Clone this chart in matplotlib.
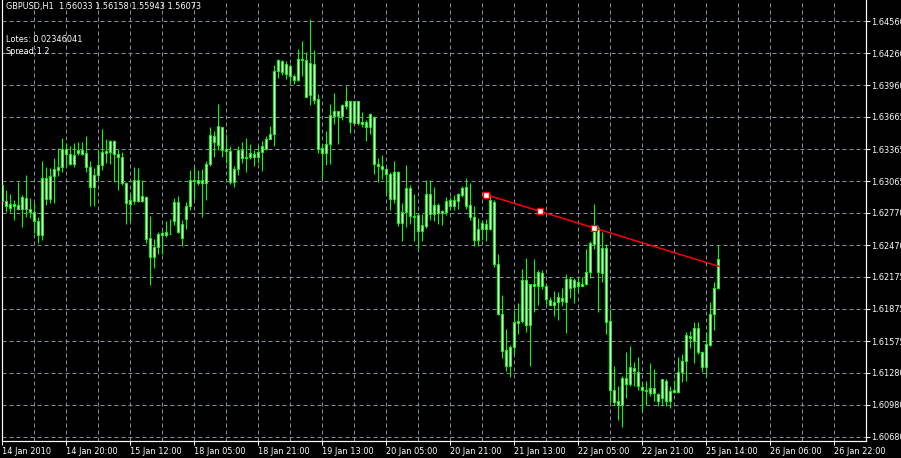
import matplotlib
matplotlib.use("Agg")
import matplotlib.pyplot as plt
import numpy as np

# === DATA (GBPUSD H1, prices x 10000) ===
opens = [
    16303, 16288, 16282, 16285, 16284, 16281, 16291, 16281, 16278, 16269,
    16256, 16310, 16290, 16311, 16317, 16320, 16337, 16332, 16323, 16333,
    16336, 16333, 16320, 16301, 16312, 16322, 16333, 16334, 16344, 16332,
    16329, 16305, 16285, 16288, 16308, 16288, 16292, 16254, 16236, 16245,
    16256, 16259, 16257, 16269, 16287, 16254, 16271, 16283, 16308, 16305,
    16308, 16305, 16323, 16349, 16340, 16357, 16337, 16335, 16306, 16318,
    16336, 16328, 16329, 16332, 16329, 16334, 16337, 16346, 16351, 16409,
    16419, 16407, 16414, 16405, 16401, 16421, 16420, 16387, 16416, 16383,
    16338, 16333, 16341, 16367, 16372, 16367, 16377, 16381, 16361, 16381,
    16360, 16362, 16357, 16366, 16323, 16321, 16318, 16313, 16290, 16315,
    16268, 16278, 16300, 16274, 16275, 16260, 16265, 16295, 16276, 16284,
    16277, 16278, 16289, 16283, 16288, 16294, 16301, 16284, 16273, 16252,
    16262, 16267, 16262, 16287, 16229, 16183, 16149, 16134, 16152, 16174,
    16176, 16214, 16172, 16211, 16209, 16221, 16209, 16196, 16191, 16194,
    16198, 16194, 16215, 16208, 16213, 16209, 16211, 16222, 16248, 16263,
    16221, 16244, 16176, 16112, 16102, 16098, 16123, 16117, 16132, 16129,
    16115, 16112, 16109, 16114, 16108, 16104, 16120, 16102, 16110, 16110,
    16129, 16139, 16162, 16158, 16170, 16147, 16133, 16154, 16183, 16207,
]
closes = [
    16288, 16283, 16285, 16283, 16281, 16292, 16281, 16278, 16269, 16256,
    16310, 16290, 16311, 16318, 16320, 16337, 16332, 16323, 16331, 16336,
    16332, 16320, 16301, 16312, 16322, 16334, 16335, 16344, 16332, 16329,
    16305, 16286, 16289, 16308, 16288, 16293, 16253, 16236, 16245, 16257,
    16258, 16256, 16257, 16287, 16259, 16267, 16283, 16308, 16307, 16308,
    16305, 16323, 16350, 16343, 16358, 16336, 16335, 16306, 16318, 16336,
    16328, 16329, 16333, 16329, 16334, 16339, 16346, 16351, 16409, 16420,
    16408, 16416, 16405, 16401, 16421, 16420, 16385, 16417, 16382, 16337,
    16333, 16341, 16368, 16372, 16367, 16378, 16381, 16362, 16381, 16361,
    16362, 16357, 16369, 16323, 16321, 16318, 16313, 16290, 16315, 16268,
    16278, 16300, 16274, 16273, 16260, 16266, 16295, 16276, 16284, 16277,
    16279, 16288, 16283, 16289, 16295, 16300, 16283, 16273, 16252, 16262,
    16268, 16262, 16289, 16229, 16183, 16148, 16134, 16152, 16175, 16176,
    16214, 16172, 16211, 16209, 16222, 16209, 16197, 16191, 16194, 16199,
    16195, 16215, 16207, 16214, 16209, 16211, 16222, 16249, 16263, 16222,
    16244, 16175, 16112, 16101, 16098, 16123, 16117, 16133, 16130, 16116,
    16112, 16111, 16114, 16109, 16102, 16122, 16102, 16111, 16112, 16129,
    16139, 16163, 16160, 16170, 16147, 16133, 16155, 16183, 16207, 16234,
]
highs = [
    16305, 16298, 16295, 16289, 16306, 16294, 16312, 16291, 16286, 16273,
    16325, 16320, 16319, 16328, 16338, 16347, 16342, 16339, 16342, 16343,
    16343, 16349, 16325, 16319, 16337, 16355, 16346, 16345, 16345, 16337,
    16334, 16306, 16295, 16320, 16319, 16308, 16293, 16274, 16253, 16259,
    16261, 16269, 16271, 16291, 16293, 16270, 16287, 16317, 16321, 16317,
    16318, 16325, 16357, 16353, 16379, 16357, 16351, 16339, 16321, 16339,
    16343, 16347, 16341, 16336, 16339, 16344, 16349, 16358, 16415, 16421,
    16420, 16419, 16416, 16407, 16430, 16437, 16427, 16458, 16429, 16388,
    16341, 16353, 16379, 16389, 16372, 16379, 16395, 16381, 16381, 16381,
    16371, 16364, 16370, 16367, 16328, 16331, 16320, 16315, 16325, 16316,
    16286, 16322, 16303, 16295, 16277, 16276, 16308, 16308, 16301, 16286,
    16280, 16292, 16292, 16294, 16296, 16302, 16310, 16305, 16283, 16272,
    16270, 16271, 16295, 16289, 16239, 16200, 16169, 16154, 16186, 16193,
    16225, 16235, 16211, 16234, 16224, 16224, 16211, 16199, 16204, 16203,
    16207, 16220, 16217, 16216, 16217, 16217, 16243, 16251, 16285, 16265,
    16259, 16248, 16187, 16134, 16116, 16125, 16147, 16153, 16138, 16143,
    16119, 16120, 16137, 16131, 16109, 16122, 16122, 16116, 16121, 16143,
    16145, 16166, 16167, 16175, 16175, 16148, 16166, 16194, 16213, 16247,
]
lows = [
    16284, 16278, 16278, 16270, 16280, 16264, 16273, 16272, 16258, 16249,
    16252, 16284, 16286, 16286, 16311, 16315, 16320, 16322, 16320, 16331,
    16331, 16315, 16283, 16283, 16308, 16317, 16324, 16323, 16306, 16298,
    16303, 16267, 16269, 16285, 16287, 16287, 16249, 16210, 16226, 16239,
    16239, 16255, 16257, 16266, 16258, 16246, 16262, 16280, 16290, 16303,
    16273, 16289, 16321, 16329, 16336, 16329, 16324, 16304, 16301, 16312,
    16324, 16315, 16327, 16321, 16324, 16316, 16336, 16346, 16339, 16403,
    16406, 16402, 16397, 16397, 16400, 16405, 16385, 16378, 16379, 16333,
    16309, 16322, 16323, 16360, 16341, 16364, 16374, 16352, 16360, 16359,
    16357, 16344, 16351, 16313, 16306, 16309, 16295, 16280, 16286, 16265,
    16251, 16264, 16267, 16251, 16242, 16251, 16263, 16270, 16269, 16267,
    16266, 16275, 16280, 16280, 16281, 16292, 16281, 16270, 16246, 16246,
    16252, 16251, 16261, 16227, 16182, 16142, 16130, 16124, 16145, 16164,
    16174, 16166, 16134, 16185, 16191, 16206, 16192, 16190, 16181, 16177,
    16190, 16165, 16198, 16193, 16203, 16209, 16210, 16216, 16243, 16185,
    16213, 16164, 16101, 16098, 16084, 16077, 16104, 16116, 16116, 16112,
    16091, 16098, 16106, 16102, 16097, 16098, 16097, 16095, 16109, 16109,
    16119, 16120, 16151, 16137, 16145, 16129, 16124, 16153, 16168, 16206,
]

time_labels = ["14 Jan 2010", "14 Jan 20:00", "15 Jan 12:00", "18 Jan 05:00",
               "18 Jan 21:00", "19 Jan 13:00", "20 Jan 05:00", "20 Jan 21:00",
               "21 Jan 13:00", "22 Jan 05:00", "22 Jan 21:00", "25 Jan 14:00",
               "26 Jan 06:00", "26 Jan 22:00"]
price_levels = [1.64560, 1.64260, 1.63960, 1.63665, 1.63365, 1.63065, 1.62770,
                1.62470, 1.62175, 1.61875, 1.61575, 1.61280, 1.60980, 1.60680]

# trendline anchors (bar, price)
trend_bars = [121, 148]
trend_prices = [1.62940, 1.62630]

o = np.array(opens) / 10000.0
c = np.array(closes) / 10000.0
h = np.array(highs) / 10000.0
l = np.array(lows) / 10000.0
x = np.arange(len(o))

GREEN = "#00ff00"
GRID = "#8090a0"
PX = 0.72  # one pixel in points
FS = 5.9

# === FIGURE ===
fig = plt.figure(figsize=(9.01, 4.58), dpi=100, facecolor="black")
ax = fig.add_axes([1.5 / 901, 17.5 / 458, 864 / 901, 440.5 / 458])
ax.set_facecolor("black")
ax.set_xlim(-0.125, 215.875)
ax.set_ylim(1.606473, 1.647559)

# grid
ax.set_yticks(price_levels)
ax.set_yticklabels(["%.5f" % p for p in price_levels])
ax.set_xticks(np.arange(0, 16 * len(time_labels), 16))
ax.set_xticklabels(time_labels)
ax.set_xticks(np.arange(8, 216, 8), minor=True)
ax.grid(True, which="both", color=GRID, linewidth=PX, linestyle=(0, (4, 3)), zorder=0)

# candles
ax.vlines(x, l, h, color=GREEN, linewidth=PX * 1.1, zorder=2)
body_lo = np.minimum(o, c)
body_hi = np.maximum(o, c)
ax.bar(x, np.maximum(body_hi - body_lo, 0.000002), bottom=body_lo, width=0.55,
       color="white", edgecolor=GREEN, linewidth=PX, zorder=3)

# trendline
slope = (trend_prices[1] - trend_prices[0]) / (trend_bars[1] - trend_bars[0])
x_end = len(o) - 1 + 0.25
y_end = trend_prices[0] + slope * (x_end - trend_bars[0])
ax.plot([trend_bars[0], x_end], [trend_prices[0], y_end], color="red", linewidth=1.1, zorder=4)
mid_b = (trend_bars[0] + trend_bars[1]) / 2
mid_p = (trend_prices[0] + trend_prices[1]) / 2
ax.plot([trend_bars[0], mid_b, trend_bars[1]], [trend_prices[0], mid_p, trend_prices[1]],
        linestyle="none", marker="s", markersize=4, markerfacecolor="white",
        markeredgecolor="red", markeredgewidth=1.0, zorder=5)

# axes frame
for side in ["left", "right", "bottom"]:
    ax.spines[side].set_color("white")
    ax.spines[side].set_linewidth(PX * 1.2)
ax.spines["top"].set_visible(False)
ax.yaxis.tick_right()
ax.tick_params(axis="y", which="major", direction="out", length=3, width=PX,
               color="white", labelcolor="white", labelsize=FS, pad=1.2)
ax.tick_params(axis="x", which="major", direction="out", length=3, width=PX,
               color="white", labelcolor="white", labelsize=FS, pad=1.5)
ax.tick_params(axis="x", which="minor", length=0)
for lab in ax.get_xticklabels():
    lab.set_horizontalalignment("left")

# header texts
fig.text(6 / 901, 1 - 6 / 458, "GBPUSD,H1  1.56033 1.56158 1.55943 1.56073",
         color="white", fontsize=FS, va="center", ha="left")
fig.text(6 / 901, 1 - 39 / 458, "Lotes: 0.02346041", color="white", fontsize=FS,
         va="center", ha="left")
fig.text(6 / 901, 1 - 51 / 458, "Spread:1.2", color="white", fontsize=FS,
         va="center", ha="left")

fig.savefig("out.png", dpi=100, facecolor="black")
